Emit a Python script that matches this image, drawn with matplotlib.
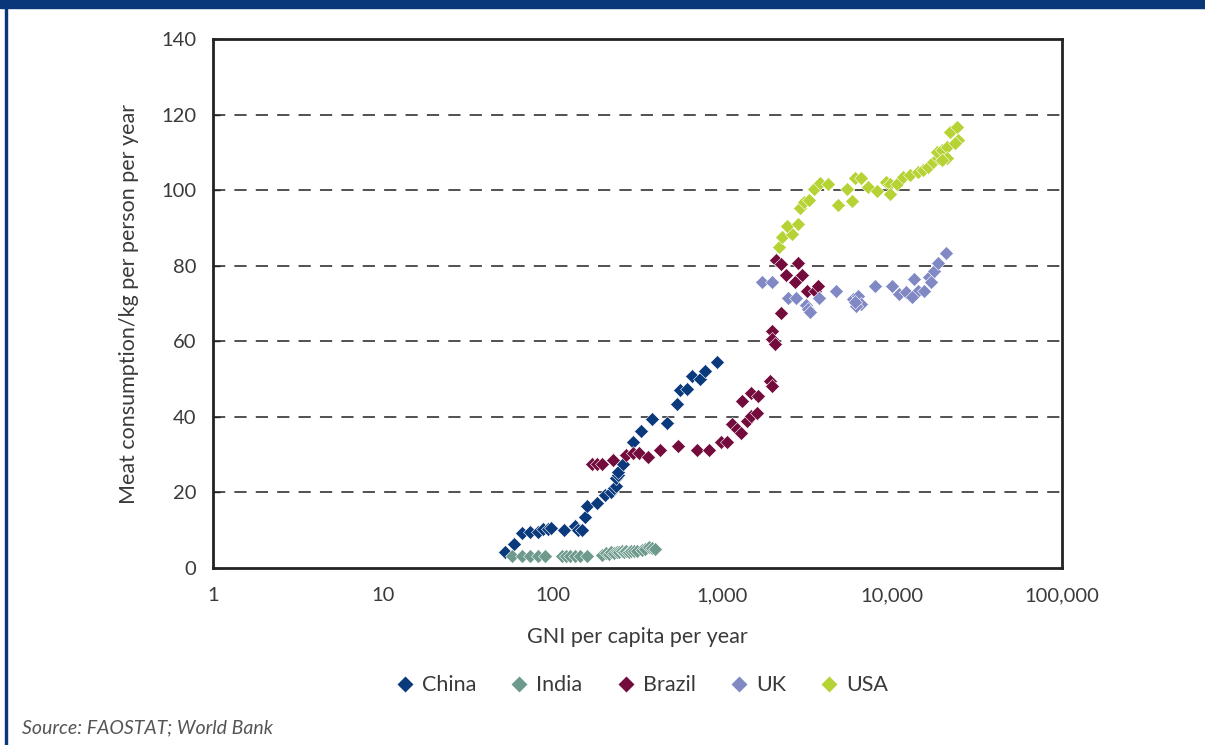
import matplotlib
matplotlib.use('Agg')
import matplotlib.pyplot as plt
from matplotlib.lines import Line2D
from matplotlib.patches import Rectangle

plt.rcParams['font.family'] = ['Lato', 'DejaVu Sans']

# GNI per capita (x) and meat consumption kg/person/year (y)
china_x = [52.6, 59, 66, 73.6, 82, 88, 94, 98, 117, 135, 141, 148, 155, 159, 182, 203,
           221, 230, 235, 237, 243, 243, 259, 296, 330, 385, 470, 541, 560, 620, 665, 740,
           790, 923]
china_y = [4.2, 6.3, 9.2, 9.4, 9.4, 10.3, 10.3, 10.5, 10.1, 11.2, 10.1, 10.1, 13.6, 16.3,
           17.2, 19.4, 20.0, 21.2, 21.6, 23.8, 24.7, 25.4, 27.4, 33.3, 36.2, 39.3, 38.4,
           43.3, 47.0, 47.3, 50.7, 50.1, 52.2, 54.4]

india_x = [58, 66, 74, 82, 90, 113, 120, 126, 135, 144, 160, 195, 207, 215, 222, 230, 238,
           246, 255, 263, 272, 280, 290, 300, 315, 335, 350, 370, 385, 400]
india_y = [3.3, 3.3, 3.3, 3.3, 3.3, 3.3, 3.3, 3.3, 3.3, 3.3, 3.3, 3.5, 4.0, 3.6, 4.2, 4.0,
           4.2, 4.3, 4.5, 4.2, 4.5, 4.3, 4.5, 4.6, 4.5, 4.8, 5.0, 5.6, 5.3, 4.9]

brazil_x = [170, 182, 195, 228, 270, 297, 322, 366, 430, 545, 705, 830, 975, 1070, 1140,
            1220, 1280, 1390, 1480, 1590, 1300, 1480, 1610, 1900, 1950, 1970, 1970, 2040,
            2200, 2060, 2200, 2360, 2690, 2800, 2950, 3160, 3500, 3650]
brazil_y = [27.4, 27.4, 27.4, 28.5, 29.8, 30.3, 30.3, 29.4, 31.3, 32.4, 31.3, 31.3, 33.3,
            33.3, 38.0, 36.7, 35.8, 38.9, 40.2, 41.1, 44.2, 46.2, 45.5, 49.5, 48.2, 62.8,
            60.6, 59.2, 67.4, 81.4, 80.5, 77.6, 75.6, 80.8, 77.6, 73.4, 73.4, 74.7]

uk_x = [1720, 1970, 2420, 2720, 3100, 3200, 3260, 3700, 4690, 5860, 6270, 6560, 6130,
        6000, 7900, 9990, 10950, 12000, 13500, 14100, 15400, 13100, 16500, 17700, 18600,
        16900, 20800]
uk_y = [75.6, 75.6, 71.4, 71.4, 69.6, 68.5, 67.8, 71.4, 73.4, 71.2, 72.1, 69.9, 69.4,
        70.5, 74.5, 74.5, 72.5, 73.0, 76.5, 73.4, 73.4, 71.6, 77.0, 78.7, 80.8, 75.6, 83.3]

usa_x = [2160, 2230, 2550, 2400, 2770, 2880, 3040, 3250, 3450, 3750, 4180, 4800, 5760,
         5380, 6000, 6560, 7220, 8160, 9130, 9760, 9660, 10700, 11620, 12730, 14250, 15250,
         16320, 17460, 18680, 18280, 19560, 20940, 21900, 24000, 24500, 23400, 20900, 19560]
usa_y = [84.9, 87.6, 88.3, 90.5, 91.1, 95.3, 96.9, 97.5, 100.2, 101.8, 101.5, 96.0, 97.0,
         100.2, 103.3, 103.1, 100.9, 99.8, 102.2, 101.6, 98.9, 101.5, 103.5, 103.9, 104.9,
         105.3, 106.2, 107.5, 108.4, 110.2, 110.6, 111.5, 115.5, 116.8, 113.3, 112.4,
         108.6, 108.0]

series = [('China', china_x, china_y, '#0b3a7c'),
          ('India', india_x, india_y, '#6e9a8e'),
          ('Brazil', brazil_x, brazil_y, '#730b3d'),
          ('UK', uk_x, uk_y, '#8189c5'),
          ('USA', usa_x, usa_y, '#b5d334')]

x_ticks = [1, 10, 100, 1000, 10000, 100000]
x_labels = ['1', '10', '100', '1,000', '10,000', '100,000']
y_ticks = [0, 20, 40, 60, 80, 100, 120, 140]

text_color = '#3a3a3a'

fig = plt.figure(figsize=(12.05, 7.45), dpi=100)
ax = fig.add_axes([0.1768, 0.2376, 0.7046, 0.7101])

for name, xs, ys, color in series:
    ax.plot(xs, ys, linestyle='none', marker='D', markersize=6.8,
            markerfacecolor=color, markeredgecolor='white', markeredgewidth=0.4,
            label=name, zorder=3)

ax.set_xscale('log')
ax.set_xlim(1, 100000)
ax.set_ylim(0, 140)
ax.set_xticks(x_ticks)
ax.set_xticklabels(x_labels)
ax.minorticks_off()
ax.set_yticks(y_ticks)

for y in y_ticks[1:-1]:
    ax.axhline(y, color='#222222', linewidth=1.1, linestyle=(0, (8, 6)), zorder=1)

ax.tick_params(axis='x', length=0, pad=14, labelsize=14.5, labelcolor=text_color)
ax.tick_params(axis='y', direction='in', length=5, width=1, pad=12, labelsize=14.5,
               labelcolor=text_color, color='#222222')
for sp in ax.spines.values():
    sp.set_linewidth(2)
    sp.set_color('#222222')

ax.set_xlabel('GNI per capita per year', fontsize=15.5, color=text_color, labelpad=16)
ax.set_ylabel('Meat consumption/kg per person per year', fontsize=15.5,
              color=text_color, labelpad=16)

handles = [Line2D([], [], linestyle='none', marker='D', markersize=8.5,
                  markerfacecolor=c, markeredgecolor='none') for _, _, _, c in series]
fig.legend(handles, [s[0] for s in series], loc='center', bbox_to_anchor=(0.532, 0.080),
           ncol=5, frameon=False, fontsize=15.5, handletextpad=0.3, columnspacing=1.5,
           labelcolor=text_color, handlelength=1.0)

fig.text(0.018, 0.015, 'Source: FAOSTAT; World Bank', fontsize=14, style='italic',
         color='#555555')

# frame decoration: top band and left edge
fig.patches.append(Rectangle((0, 0.989), 1, 0.011, transform=fig.transFigure,
                             color='#0a3778', zorder=0))
fig.patches.append(Rectangle((0.004, 0), 0.0017, 1, transform=fig.transFigure,
                             color='#0a3778', zorder=0))

fig.savefig('out.png', dpi=100)
